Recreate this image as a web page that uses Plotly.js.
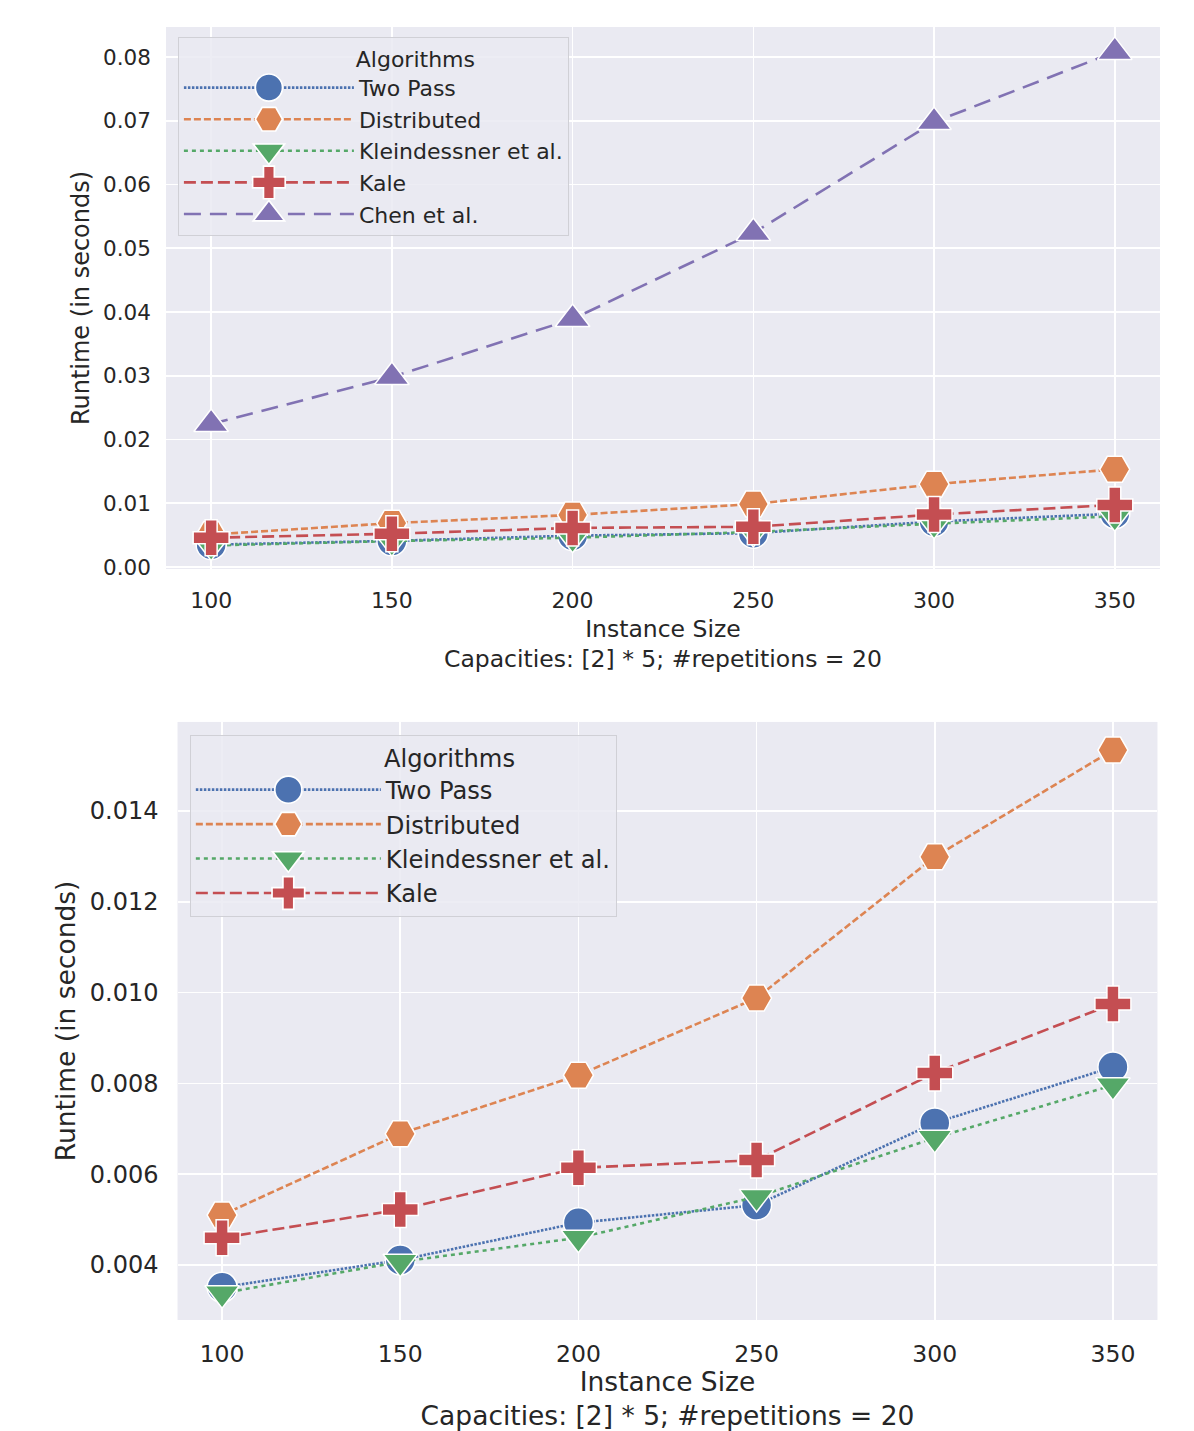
<!DOCTYPE html>
<html><head><meta charset="utf-8">
<script src="https://cdn.plot.ly/plotly-3.0.1.min.js"></script>
<style>body{margin:0;padding:0;background:#fff}#plot{width:1194px;height:1431px}</style>
</head><body><div id="plot"></div>
<script>
const instanceSizes = [100, 150, 200, 250, 300, 350];
const twoPass       = [0.00351, 0.00411, 0.00493, 0.00532, 0.00713, 0.00836];
const distributed   = [0.00510, 0.00689, 0.00818, 0.00988, 0.01299, 0.01534];
const kleindessner  = [0.00338, 0.00407, 0.00460, 0.00550, 0.00680, 0.00796];
const kale          = [0.00460, 0.00522, 0.00614, 0.00631, 0.00823, 0.00975];
const chen          = [0.02243, 0.02980, 0.03890, 0.05240, 0.06980, 0.08080];

const seriesNames = ["Two Pass", "Distributed", "Kleindessner et al.", "Kale", "Chen et al."];
const seriesData = [twoPass, distributed, kleindessner, kale, chen];
const colors = ["#4C72B0", "#DD8452", "#55A868", "#C44E52", "#8172B3"];
const symbols = ["circle", "hexagon2", "triangle-down", "cross", "triangle-up"];
const dashes = ["2.5px,1.5px", "7px,3px", "4px,4px", "12px,5px", "17px,9px"];

const traces = [];
function addSeries(i, xa, ya, leg) {
  traces.push({
    x: instanceSizes, y: seriesData[i], name: seriesNames[i],
    type: "scatter", mode: "lines+markers",
    xaxis: xa, yaxis: ya, legend: leg,
    line: {color: colors[i], width: 2.6, dash: dashes[i]},
    marker: {symbol: symbols[i], size: 30, color: colors[i], line: {color: "#ffffff", width: 1.5}}
  });
}
for (let i = 0; i < 5; i++) addSeries(i, "x", "y", "legend");
for (let i = 0; i < 4; i++) addSeries(i, "x2", "y2", "legend2");

const txt = "#262626";
const fam = "DejaVu Sans";
function xAxis(domain, anchor, fs, tfs, so) {
  return {
    domain: domain, anchor: anchor, range: [87.5, 362.5],
    tickvals: instanceSizes, ticks: "", ticklabelstandoff: so,
    showgrid: true, gridcolor: "#ffffff", gridwidth: 1.6, zeroline: false,
    showline: false, tickfont: {family: fam, size: fs, color: txt},
    title: {text: "Instance Size<br>Capacities: [2] * 5; #repetitions = 20",
            font: {family: fam, size: tfs, color: txt}, standoff: 8}
  };
}
function yAxis(domain, anchor, range, dtick, fmt, fs, tfs, so, tso) {
  return {
    domain: domain, anchor: anchor, range: range, dtick: dtick, tick0: 0,
    tickformat: fmt, ticks: "", ticklabelstandoff: so,
    showgrid: true, gridcolor: "#ffffff", gridwidth: 1.6, zeroline: false,
    showline: false, tickfont: {family: fam, size: fs, color: txt},
    title: {text: "Runtime (in seconds)", font: {family: fam, size: tfs, color: txt}, standoff: tso}
  };
}
function legend(x, y, fs, iw, pad) {
  return {
    x: x, y: y, xanchor: "left", yanchor: "top",
    bgcolor: "rgba(234,234,242,0.85)", bordercolor: "#d0d0d6", borderwidth: 1,
    font: {family: fam, size: fs, color: txt},
    title: {text: "\u00a0".repeat(pad) + "Algorithms", side: "top center", font: {family: fam, size: fs, color: txt}},
    itemwidth: iw
  };
}

const layout = {
  width: 1194, height: 1431,
  margin: {l: 0, r: 0, t: 0, b: 0},
  paper_bgcolor: "#ffffff", plot_bgcolor: "#EAEAF2",
  showlegend: true,
  xaxis: xAxis([0.139, 0.9715], "y", 22, 23.5, 16),
  yaxis: yAxis([0.6024, 0.9811], "x", [-0.0003, 0.0847], 0.01, ".2f", 21.5, 24, 14, 6),
  xaxis2: xAxis([0.1487, 0.9694], "y2", 23.5, 26.5, 18),
  yaxis2: yAxis([0.0776, 0.4955], "x2", [0.00279, 0.01596], 0.002, ".3f", 24, 26.5, 18, 6),
  legend: legend(0.149, 0.974, 22, 170, 12),
  legend2: legend(0.159, 0.4864, 24.2, 185, 12)
};

Plotly.newPlot("plot", traces, layout, {displayModeBar: false, staticPlot: true}).then(function () {
  // enlarge the legend marker glyphs (both legends) to match the reference key
  document.querySelectorAll(".legendpoints path.scatterpts").forEach(function (p) {
    const t = p.getAttribute("transform") || "";
    p.setAttribute("transform", t + " scale(1.7)");
    p.style.strokeWidth = "1px";
  });
});
</script></body></html>
